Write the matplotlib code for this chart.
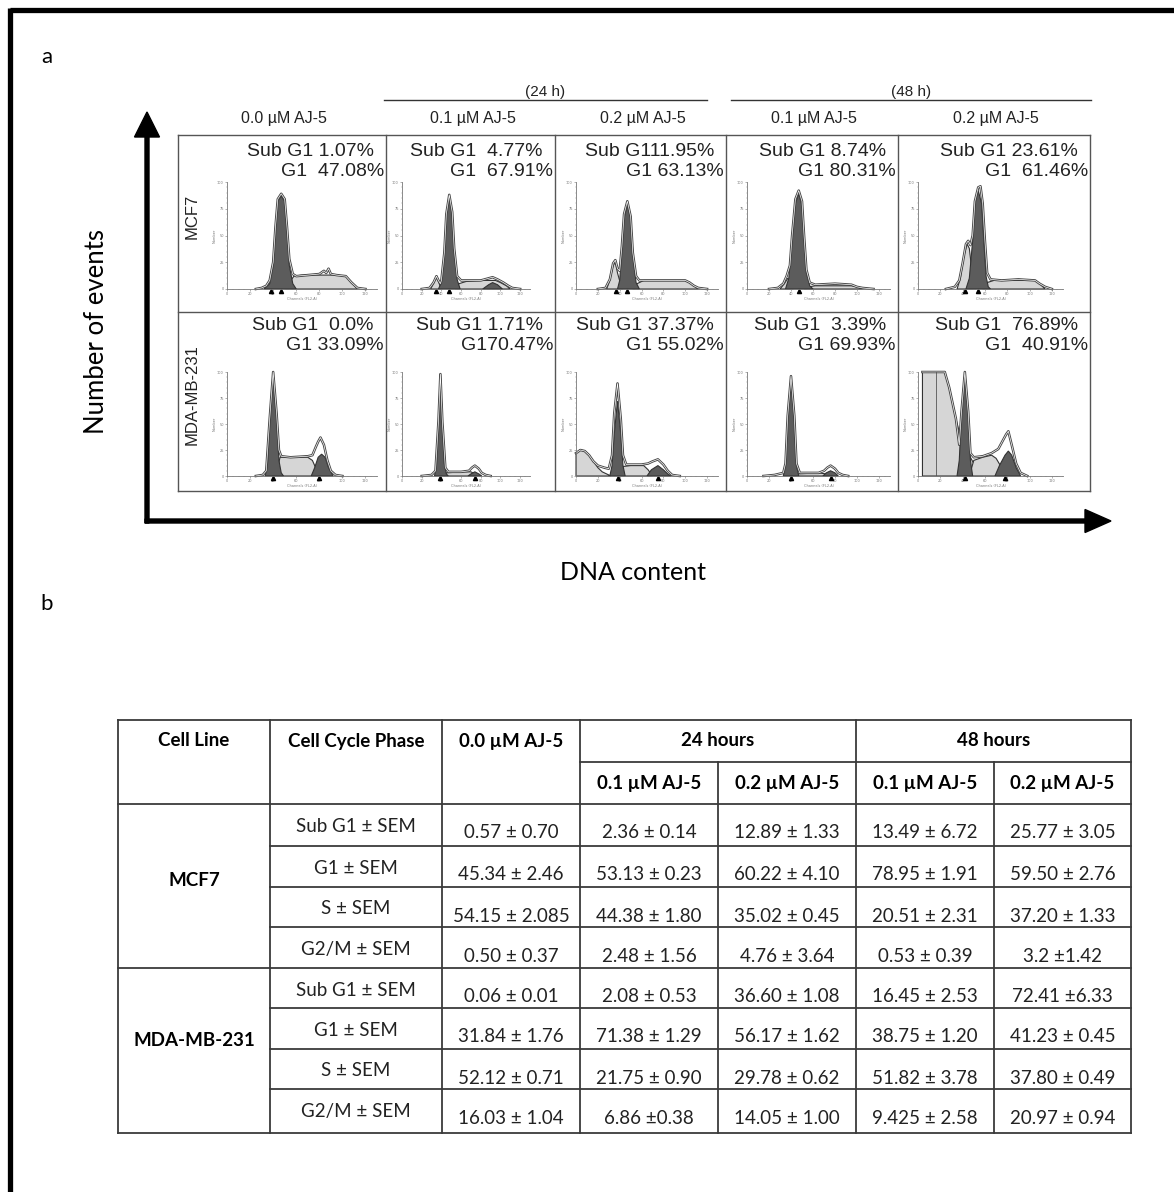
import numpy as np
import matplotlib
matplotlib.use('Agg')
import matplotlib.pyplot as plt

W, H = 1174, 1192

# ---- panel a: flow cytometry histograms ----
doses = ['0.0 \u00b5M AJ-5', '0.1 \u00b5M AJ-5', '0.2 \u00b5M AJ-5',
         '0.1 \u00b5M AJ-5', '0.2 \u00b5M AJ-5']
times = ['(24 h)', '(48 h)']
row_names = ['MCF7', 'MDA-MB-231']

sub_txt = ['Sub G1 1.07%', 'Sub G1  4.77%', 'Sub G111.95%', 'Sub G1 8.74%', 'Sub G1 23.61%',
           'Sub G1  0.0%', 'Sub G1 1.71%', 'Sub G1 37.37%', 'Sub G1  3.39%', 'Sub G1  76.89%']
g1_txt = ['G1  47.08%', 'G1  67.91%', 'G1 63.13%', 'G1 80.31%', 'G1  61.46%',
          'G1 33.09%', 'G170.47%', 'G1 55.02%', 'G1 69.93%', 'G1  40.91%']

# (channel, count %) points, row by row
sub_peaks = [
    [],
    [(29, 0), (32, 5), (35, 11), (37, 7), (39, 2), (41, 0)],
    [(28, 0), (31, 8), (34, 22), (36, 25), (38, 15), (41, 4), (43, 0)],
    [(30, 0), (34, 5), (37, 10), (40, 6), (42, 0)],
    [(35, 0), (38, 10), (41, 30), (44, 42), (46, 38), (48, 20), (50, 5), (52, 0)],
    [],
    [],
    [(0, 0), (0, 22), (4, 25), (8, 24), (12, 20), (16, 14), (20, 8), (24, 4), (28, 2), (32, 0)],
    [],
    [(4, 0), (4, 100), (24, 100), (28, 85), (34, 55), (40, 30), (46, 20), (50, 12), (54, 5), (58, 0)],
]
g1_peaks = [
    [(32, 0), (37, 5), (40, 22), (42, 55), (44, 82), (47, 87), (50, 82), (52, 55), (54, 22), (57, 5), (60, 0)],
    [(37, 0), (40, 6), (43, 32), (45, 68), (48, 86), (51, 70), (53, 36), (56, 9), (59, 0)],
    [(38, 0), (40, 8), (42, 36), (44, 66), (47, 79), (50, 66), (52, 32), (55, 6), (58, 0)],
    [(35, 0), (38, 10), (41, 45), (44, 80), (47, 89), (50, 78), (52, 45), (54, 15), (57, 3), (60, 0)],
    [(43, 0), (46, 10), (49, 45), (51, 80), (54, 92), (57, 80), (59, 45), (61, 12), (63, 2), (65, 0)],
    [(33, 0), (35, 10), (37, 50), (40, 100), (43, 55), (45, 15), (47, 3), (49, 0)],
    [(33, 0), (35, 10), (37, 50), (39, 98), (41, 50), (43, 12), (45, 2), (47, 0)],
    [(31, 0), (33, 10), (35, 40), (38, 72), (41, 40), (43, 10), (45, 0)],
    [(33, 0), (35, 10), (37, 55), (40, 95), (43, 55), (45, 10), (47, 0)],
    [(35, 0), (37, 15), (39, 60), (42, 100), (45, 60), (47, 15), (49, 0)],
]
s_phase = [
    [(50, 0), (54, 6), (58, 12), (65, 13), (80, 13), (95, 13), (103, 12), (108, 6), (113, 0)],
    [(54, 0), (58, 5), (65, 7), (80, 8), (95, 8), (100, 6), (106, 3), (110, 0)],
    [(52, 0), (56, 5), (62, 8), (80, 8), (100, 8), (104, 6), (108, 3), (112, 0)],
    [(52, 0), (56, 2), (62, 3), (80, 3), (95, 3), (100, 2), (105, 0)],
    [(58, 0), (62, 6), (68, 8), (90, 8), (105, 8), (109, 5), (114, 0)],
    [(42, 0), (46, 18), (50, 18), (60, 18), (70, 18), (74, 15), (78, 5), (80, 0)],
    [(42, 0), (45, 3), (60, 4), (70, 4), (74, 2), (77, 0)],
    [(38, 0), (42, 9), (50, 10), (62, 10), (66, 6), (70, 0)],
    [(42, 0), (45, 2), (65, 3), (72, 2), (75, 0)],
    [(46, 0), (50, 15), (58, 18), (66, 20), (70, 17), (75, 8), (78, 0)],
]
g2_peaks = [
    [],
    [(82, 0), (88, 4), (92, 6), (97, 4), (102, 0)],
    [],
    [],
    [],
    [(73, 0), (76, 8), (79, 18), (82, 21), (85, 18), (88, 8), (92, 0)],
    [(67, 0), (70, 2), (74, 4), (78, 2), (81, 0)],
    [(65, 0), (69, 6), (75, 10), (80, 6), (84, 2), (87, 0)],
    [(69, 0), (72, 3), (76, 5), (80, 3), (83, 0)],
    [(69, 0), (73, 10), (78, 20), (81, 24), (84, 20), (88, 8), (92, 0)],
]
envelopes = [
    [(25, 0), (30, 1), (34, 3), (37, 8), (40, 25), (42, 58), (44, 84), (47, 89), (50, 84), (52, 58), (54, 28),
     (57, 14), (60, 12), (70, 13), (80, 14), (84, 17), (86, 15), (88, 19), (90, 14), (95, 13), (103, 12),
     (108, 6), (113, 1), (120, 0)],
    [(20, 0), (28, 1), (32, 6), (35, 12), (37, 8), (39, 5), (40, 8), (43, 34), (45, 70), (48, 88), (51, 72),
     (53, 38), (56, 12), (60, 8), (70, 8), (80, 8), (88, 10), (92, 11), (97, 9), (103, 6), (108, 3), (112, 1),
     (120, 0)],
    [(20, 0), (27, 1), (31, 9), (34, 24), (36, 27), (38, 19), (40, 17), (42, 40), (44, 70), (47, 82), (50, 68),
     (52, 34), (55, 12), (58, 8), (80, 8), (100, 8), (104, 6), (108, 3), (112, 1), (120, 0)],
    [(20, 0), (28, 1), (33, 5), (36, 12), (39, 22), (41, 50), (44, 84), (47, 92), (50, 82), (52, 48), (54, 18),
     (57, 6), (62, 4), (80, 5), (95, 4), (100, 2), (105, 1), (115, 0)],
    [(25, 0), (33, 2), (37, 8), (40, 24), (43, 42), (45, 45), (47, 41), (49, 50), (51, 82), (54, 95), (56, 96),
     (58, 80), (60, 45), (62, 15), (65, 9), (75, 8), (90, 9), (105, 8), (109, 5), (114, 2), (120, 0)],
    [(25, 0), (31, 1), (34, 5), (37, 55), (40, 100), (43, 60), (45, 25), (47, 19), (55, 18), (70, 19), (74, 20),
     (77, 28), (79, 33), (81, 37), (84, 30), (87, 15), (90, 5), (94, 1), (100, 0)],
    [(20, 0), (30, 1), (34, 5), (37, 52), (39, 98), (41, 52), (44, 8), (47, 4), (60, 4), (68, 5), (71, 8),
     (74, 10), (78, 7), (81, 3), (85, 1), (90, 0)],
    [(0, 22), (4, 25), (8, 24), (12, 20), (16, 14), (20, 10), (26, 8), (30, 7), (33, 20), (35, 60), (38, 89),
     (41, 55), (43, 20), (46, 11), (60, 11), (66, 12), (70, 14), (75, 16), (80, 11), (84, 5), (88, 1), (95, 0)],
    [(15, 0), (25, 1), (33, 3), (35, 12), (37, 58), (40, 96), (43, 58), (45, 12), (48, 3), (65, 3), (70, 5),
     (73, 8), (76, 10), (80, 7), (83, 3), (87, 1), (92, 0)],
    [(4, 100), (24, 100), (28, 85), (34, 55), (37, 30), (39, 62), (42, 100), (45, 62), (47, 22), (50, 18),
     (58, 19), (66, 22), (72, 26), (76, 34), (79, 40), (81, 43), (84, 30), (88, 12), (92, 3), (98, 0)],
]
tri_marks = [[38, 47], [35, 48], [37, 47], [47], [42, 54],
             [40, 80], [39, 74], [38, 75], [40, 76], [42, 78]]

# ---- panel b: table ----
tab_heads = ['Cell Line', 'Cell Cycle Phase', '0.0 \u00b5M AJ-5']
tab_times = ['24 hours', '48 hours']
tab_doses = ['0.1 \u00b5M AJ-5', '0.2 \u00b5M AJ-5', '0.1 \u00b5M AJ-5', '0.2 \u00b5M AJ-5']
phases = ['Sub G1 \u00b1 SEM', 'G1 \u00b1 SEM', 'S \u00b1 SEM', 'G2/M \u00b1 SEM']
mcf7_vals = [
    ['0.57 \u00b1 0.70', '2.36 \u00b1 0.14', '12.89 \u00b1 1.33', '13.49 \u00b1 6.72', '25.77 \u00b1 3.05'],
    ['45.34 \u00b1 2.46', '53.13 \u00b1 0.23', '60.22 \u00b1 4.10', '78.95 \u00b1 1.91', '59.50 \u00b1 2.76'],
    ['54.15 \u00b1 2.085', '44.38 \u00b1 1.80', '35.02 \u00b1 0.45', '20.51 \u00b1 2.31', '37.20 \u00b1 1.33'],
    ['0.50 \u00b1 0.37', '2.48 \u00b1 1.56', '4.76 \u00b1 3.64', '0.53 \u00b1 0.39', '3.2 \u00b11.42'],
]
mda_vals = [
    ['0.06 \u00b1 0.01', '2.08 \u00b1 0.53', '36.60 \u00b1 1.08', '16.45 \u00b1 2.53', '72.41 \u00b16.33'],
    ['31.84 \u00b1 1.76', '71.38 \u00b1 1.29', '56.17 \u00b1 1.62', '38.75 \u00b1 1.20', '41.23 \u00b1 0.45'],
    ['52.12 \u00b1 0.71', '21.75 \u00b1 0.90', '29.78 \u00b1 0.62', '51.82 \u00b1 3.78', '37.80 \u00b1 0.49'],
    ['16.03 \u00b1 1.04', '6.86 \u00b10.38', '14.05 \u00b1 1.00', '9.425 \u00b1 2.58', '20.97 \u00b1 0.94'],
]

ARIAL = 'Liberation Sans'
CAL = 'Lato'
TXT = '#222222'

fig = plt.figure(figsize=(W / 100, H / 100), dpi=100)
ax = fig.add_axes([0, 0, 1, 1])
ax.set_xlim(0, W)
ax.set_ylim(H, 0)
ax.axis('off')

# frame (top and left only)
ax.plot([10, W], [10, 10], color='k', lw=3.8, solid_capstyle='butt')
ax.plot([10, 10], [8, H], color='k', lw=3.8, solid_capstyle='butt')

ax.text(47, 57, 'a', fontsize=16, family=CAL, ha='center', va='center')
ax.text(47, 604, 'b', fontsize=16, family=CAL, ha='center', va='center')

# big axes arrows
ax.arrow(147, 523, 0, -411, width=4, head_width=25, head_length=25,
         length_includes_head=True, color='k')
ax.arrow(145, 521, 966, 0, width=4, head_width=23, head_length=26,
         length_includes_head=True, color='k')
ax.text(97, 331, 'Number of events', rotation=90, fontsize=18.5, family=CAL,
        ha='center', va='center')
ax.text(633, 572, 'DNA content', fontsize=18, family=CAL, ha='center', va='center')

# grid of panels
col_x = [178, 386, 555, 726, 898, 1090]
row_y = [135, 312, 491]
gc = '#555555'
for y in row_y:
    ax.plot([col_x[0], col_x[-1]], [y, y], color=gc, lw=1)
for x in col_x:
    ax.plot([x, x], [row_y[0], row_y[-1]], color=gc, lw=1)

for j, d in enumerate(doses):
    ax.text((col_x[j] + col_x[j + 1]) / 2 + 2, 119, d, fontsize=11.5, family=ARIAL,
            ha='center', va='center', color=TXT)
for (x0, x1), t in zip([(384, 707), (731, 1091)], times):
    ax.plot([x0, x1], [100, 100], color='#333333', lw=1)
    ax.text((x0 + x1) / 2, 92, t, fontsize=11, family=ARIAL, ha='center', va='center',
            color=TXT)

ax.text(192, 216, row_names[0], rotation=90, fontsize=12, family=ARIAL,
        ha='center', va='center', color=TXT)
ax.text(192, 395, row_names[1], rotation=90, fontsize=12, family=ARIAL,
        ha='center', va='center', color=TXT)

# inset axes positions (left, right) per column and (top, bottom) per row
inset_x = [(227, 377), (402, 530), (576, 718), (747, 890), (918, 1063)]
inset_y = [(182, 289), (372, 476)]
text_y = [(152, 172), (325, 346)]

dark = '#5c5c5c'
light = '#d6d6d6'
for k in range(10):
    r, c = divmod(k, 5)
    x0, x1 = inset_x[c]
    y0, y1 = inset_y[r]
    right = col_x[c + 1]
    ax.text(right - 12, text_y[r][0], sub_txt[k], fontsize=14, family=ARIAL,
            ha='right', va='center', color=TXT)
    ax.text(right - 2, text_y[r][1], g1_txt[k], fontsize=14, family=ARIAL,
            ha='right', va='center', color=TXT)

    ia = fig.add_axes([x0 / W, 1 - y1 / H, (x1 - x0) / W, (y1 - y0) / H])
    ia.set_xlim(0, 130)
    ia.set_ylim(0, 100)
    ia.patch.set_alpha(0)
    for sp in ['top', 'right']:
        ia.spines[sp].set_visible(False)
    for sp in ['left', 'bottom']:
        ia.spines[sp].set_color('#777777')
        ia.spines[sp].set_linewidth(0.6)
    ia.set_xticks(range(0, 121, 20))
    ia.set_xticks(range(0, 131, 5), minor=True)
    ia.set_yticks(range(0, 101, 25))
    ia.set_yticks(range(0, 101, 5), minor=True)
    ia.tick_params(labelsize=2.5, length=1.5, width=0.4, pad=0.8, colors='#777777')
    ia.tick_params(which='minor', length=1, width=0.3, colors='#999999')
    ia.set_xlabel('Channels (FL2-A)', fontsize=2.5, labelpad=0.5, color='#777777')
    ia.set_ylabel('Number', fontsize=2.5, labelpad=0.5, color='#777777')

    for pts, fc in [(sub_peaks[k], light), (s_phase[k], light),
                    (g1_peaks[k], dark), (g2_peaks[k], dark)]:
        if pts:
            px, py = zip(*pts)
            ia.fill(px, py, facecolor=fc, edgecolor='#333333', lw=0.8, clip_on=False)
    ex, ey = zip(*envelopes[k])
    ia.plot(ex, ey, color='#444444', lw=1.8, clip_on=False)
    ia.plot(ex, ey, color='white', lw=0.5, clip_on=False)
    if k == 9:
        ia.plot([16, 16], [0, 100], color='#555555', lw=0.6)
    ia.plot(tri_marks[k], [-2] * len(tri_marks[k]), '^', color='k', ms=3, clip_on=False)

# table
tx = [118, 270, 442, 580, 718, 856, 994, 1131]
ty = [720, 762, 804, 846, 887, 927, 968, 1008, 1049, 1089, 1133]
lc = '#3a3a3a'
lw = 1.3
ax.plot([tx[0], tx[-1]], [ty[0], ty[0]], color=lc, lw=lw)
ax.plot([tx[3], tx[-1]], [ty[1], ty[1]], color=lc, lw=lw)
ax.plot([tx[0], tx[-1]], [ty[2], ty[2]], color=lc, lw=lw)
for i in range(3, 10):
    xs0 = tx[0] if i == 6 else tx[1]
    ax.plot([xs0, tx[-1]], [ty[i], ty[i]], color=lc, lw=lw)
ax.plot([tx[0], tx[-1]], [ty[-1], ty[-1]], color=lc, lw=lw)
for j, x in enumerate(tx):
    y0 = ty[1] if j in (4, 6) else ty[0]
    ax.plot([x, x], [y0, ty[-1]], color=lc, lw=lw)

FS = 13.5
ax.text((tx[0] + tx[1]) / 2, 741, tab_heads[0], fontsize=FS, family=CAL,
        weight='bold', ha='center', va='center')
ax.text((tx[1] + tx[2]) / 2, 741, tab_heads[1], fontsize=FS, family=CAL,
        weight='bold', ha='center', va='center')
ax.text((tx[2] + tx[3]) / 2, 741, tab_heads[2], fontsize=FS, family=CAL,
        weight='bold', ha='center', va='center')
ax.text((tx[3] + tx[5]) / 2, 741, tab_times[0], fontsize=FS, family=CAL,
        weight='bold', ha='center', va='center')
ax.text((tx[5] + tx[7]) / 2, 741, tab_times[1], fontsize=FS, family=CAL,
        weight='bold', ha='center', va='center')
for j, d in enumerate(tab_doses):
    ax.text((tx[3 + j] + tx[4 + j]) / 2, 783, d, fontsize=FS, family=CAL,
            weight='bold', ha='center', va='center')

ax.text((tx[0] + tx[1]) / 2, 880, row_names[0], fontsize=FS, family=CAL,
        weight='bold', ha='center', va='center')
ax.text((tx[0] + tx[1]) / 2, 1041, row_names[1], fontsize=FS, family=CAL,
        weight='bold', ha='center', va='center')

for blk, vals in enumerate([mcf7_vals, mda_vals]):
    for i, ph in enumerate(phases):
        top = ty[2 + blk * 4 + i]
        ax.text((tx[1] + tx[2]) / 2, top + 22, ph, fontsize=FS, family=CAL,
                ha='center', va='center', color=TXT)
        for j, v in enumerate(vals[i]):
            ax.text((tx[2 + j] + tx[3 + j]) / 2, top + 29, v, fontsize=FS, family=CAL,
                    ha='center', va='center', color=TXT)

fig.savefig('out.png', dpi=100)
